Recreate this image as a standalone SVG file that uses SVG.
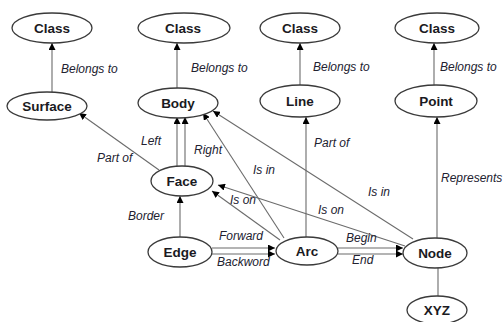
<svg xmlns="http://www.w3.org/2000/svg" width="503" height="322" viewBox="0 0 503 322">
  <style>
    .node ellipse { fill: #ffffff; stroke: #3a3a3a; stroke-width: 1.3; }
    .node text { font-family: "Liberation Sans", Arial, sans-serif; font-weight: bold; font-size: 13.5px; fill: #1a1a22; text-anchor: middle; }
    .edge { stroke: #6b6b6b; stroke-width: 1.1; fill: none; }
    .arrow { marker-end: url(#head); }
    .lbl { font-family: "Liberation Sans", Arial, sans-serif; font-style: italic; font-size: 12px; fill: #222230; }
  </style>
  <defs>
    <marker id="head" viewBox="0 0 10 10" refX="10" refY="5" markerWidth="7" markerHeight="7" markerUnits="userSpaceOnUse" orient="auto">
      <path d="M0,0 L10,5 L0,10 z" fill="#000000"/>
    </marker>
  </defs>
  <rect width="503" height="322" fill="#ffffff"/>

  <g id="connectors">
    <!-- Belongs to -->
    <line class="edge arrow" x1="52" y1="92" x2="52" y2="43"/>
    <line class="edge arrow" x1="177" y1="88" x2="177" y2="43"/>
    <line class="edge arrow" x1="300" y1="85" x2="300" y2="43"/>
    <line class="edge arrow" x1="434" y1="85" x2="434" y2="43"/>
    <!-- Face part of Surface -->
    <line class="edge arrow" x1="159" y1="170" x2="79" y2="113"/>
    <!-- Face left/right of Body -->
    <line class="edge arrow" x1="177" y1="167" x2="177" y2="117"/>
    <line class="edge arrow" x1="185" y1="167" x2="185" y2="117"/>
    <!-- Arc is in Body -->
    <line class="edge arrow" x1="284" y1="238" x2="203" y2="113"/>
    <!-- Node is in Body -->
    <line class="edge arrow" x1="413" y1="239" x2="213" y2="111"/>
    <!-- Arc is on Face -->
    <line class="edge arrow" x1="280" y1="240" x2="212" y2="191"/>
    <!-- Node is on Face -->
    <line class="edge arrow" x1="405" y1="246" x2="218" y2="185"/>
    <!-- Arc part of Line -->
    <line class="edge arrow" x1="306" y1="237" x2="306" y2="117"/>
    <!-- Node represents Point -->
    <line class="edge arrow" x1="437" y1="238" x2="437" y2="117"/>
    <!-- Edge border of Face -->
    <line class="edge arrow" x1="180" y1="237" x2="180" y2="196"/>
    <!-- Edge forward/backward Arc -->
    <line class="edge arrow" x1="212" y1="248" x2="275" y2="248"/>
    <line class="edge arrow" x1="212" y1="254" x2="275" y2="254"/>
    <!-- Arc begin/end Node -->
    <line class="edge arrow" x1="338" y1="248" x2="403" y2="248"/>
    <line class="edge arrow" x1="338" y1="254" x2="403" y2="254"/>
    <!-- Node to XYZ -->
    <line class="edge" x1="438" y1="268" x2="438" y2="296"/>

    <text class="lbl" x="61" y="73">Belongs to</text>
    <text class="lbl" x="191" y="72">Belongs to</text>
    <text class="lbl" x="313" y="71">Belongs to</text>
    <text class="lbl" x="440" y="71">Belongs to</text>
    <text class="lbl" x="97" y="162">Part of</text>
    <text class="lbl" x="141" y="145">Left</text>
    <text class="lbl" x="194" y="154">Right</text>
    <text class="lbl" x="314" y="147">Part of</text>
    <text class="lbl" x="253" y="174">Is in</text>
    <text class="lbl" x="368" y="196">Is in</text>
    <text class="lbl" x="230" y="204">Is on</text>
    <text class="lbl" x="318" y="214">Is on</text>
    <text class="lbl" x="441" y="182">Represents</text>
    <text class="lbl" x="128" y="220">Border</text>
    <text class="lbl" x="219" y="240">Forward</text>
    <text class="lbl" x="217" y="266">Backword</text>
    <text class="lbl" x="346" y="242">Begin</text>
    <text class="lbl" x="352" y="264">End</text>
  </g>

  <g id="class1" class="node"><ellipse cx="52" cy="28" rx="40" ry="15"/><text x="52" y="33">Class</text></g>
  <g id="class2" class="node"><ellipse cx="184" cy="28" rx="46" ry="15"/><text x="183" y="33">Class</text></g>
  <g id="class3" class="node"><ellipse cx="300" cy="28" rx="40" ry="15"/><text x="300" y="33">Class</text></g>
  <g id="class4" class="node"><ellipse cx="437" cy="28" rx="42" ry="15"/><text x="437" y="33">Class</text></g>
  <g id="surface" class="node"><ellipse cx="47" cy="106" rx="40" ry="14"/><text x="47" y="111">Surface</text></g>
  <g id="body" class="node"><ellipse cx="178" cy="103" rx="40" ry="15"/><text x="178" y="108">Body</text></g>
  <g id="line" class="node"><ellipse cx="300" cy="101" rx="40" ry="16"/><text x="300" y="106">Line</text></g>
  <g id="point" class="node"><ellipse cx="436" cy="101" rx="41" ry="16"/><text x="436" y="106">Point</text></g>
  <g id="face" class="node"><ellipse cx="182" cy="181" rx="31" ry="15"/><text x="182" y="186">Face</text></g>
  <g id="edge" class="node"><ellipse cx="180" cy="252" rx="32" ry="15"/><text x="180" y="257">Edge</text></g>
  <g id="arc" class="node"><ellipse cx="307" cy="251" rx="31" ry="14"/><text x="307" y="256">Arc</text></g>
  <g id="node" class="node"><ellipse cx="435" cy="253" rx="32" ry="15"/><text x="435" y="258">Node</text></g>
  <g id="xyz" class="node"><ellipse cx="437" cy="310" rx="30" ry="14"/><text x="437" y="315">XYZ</text></g>
</svg>
